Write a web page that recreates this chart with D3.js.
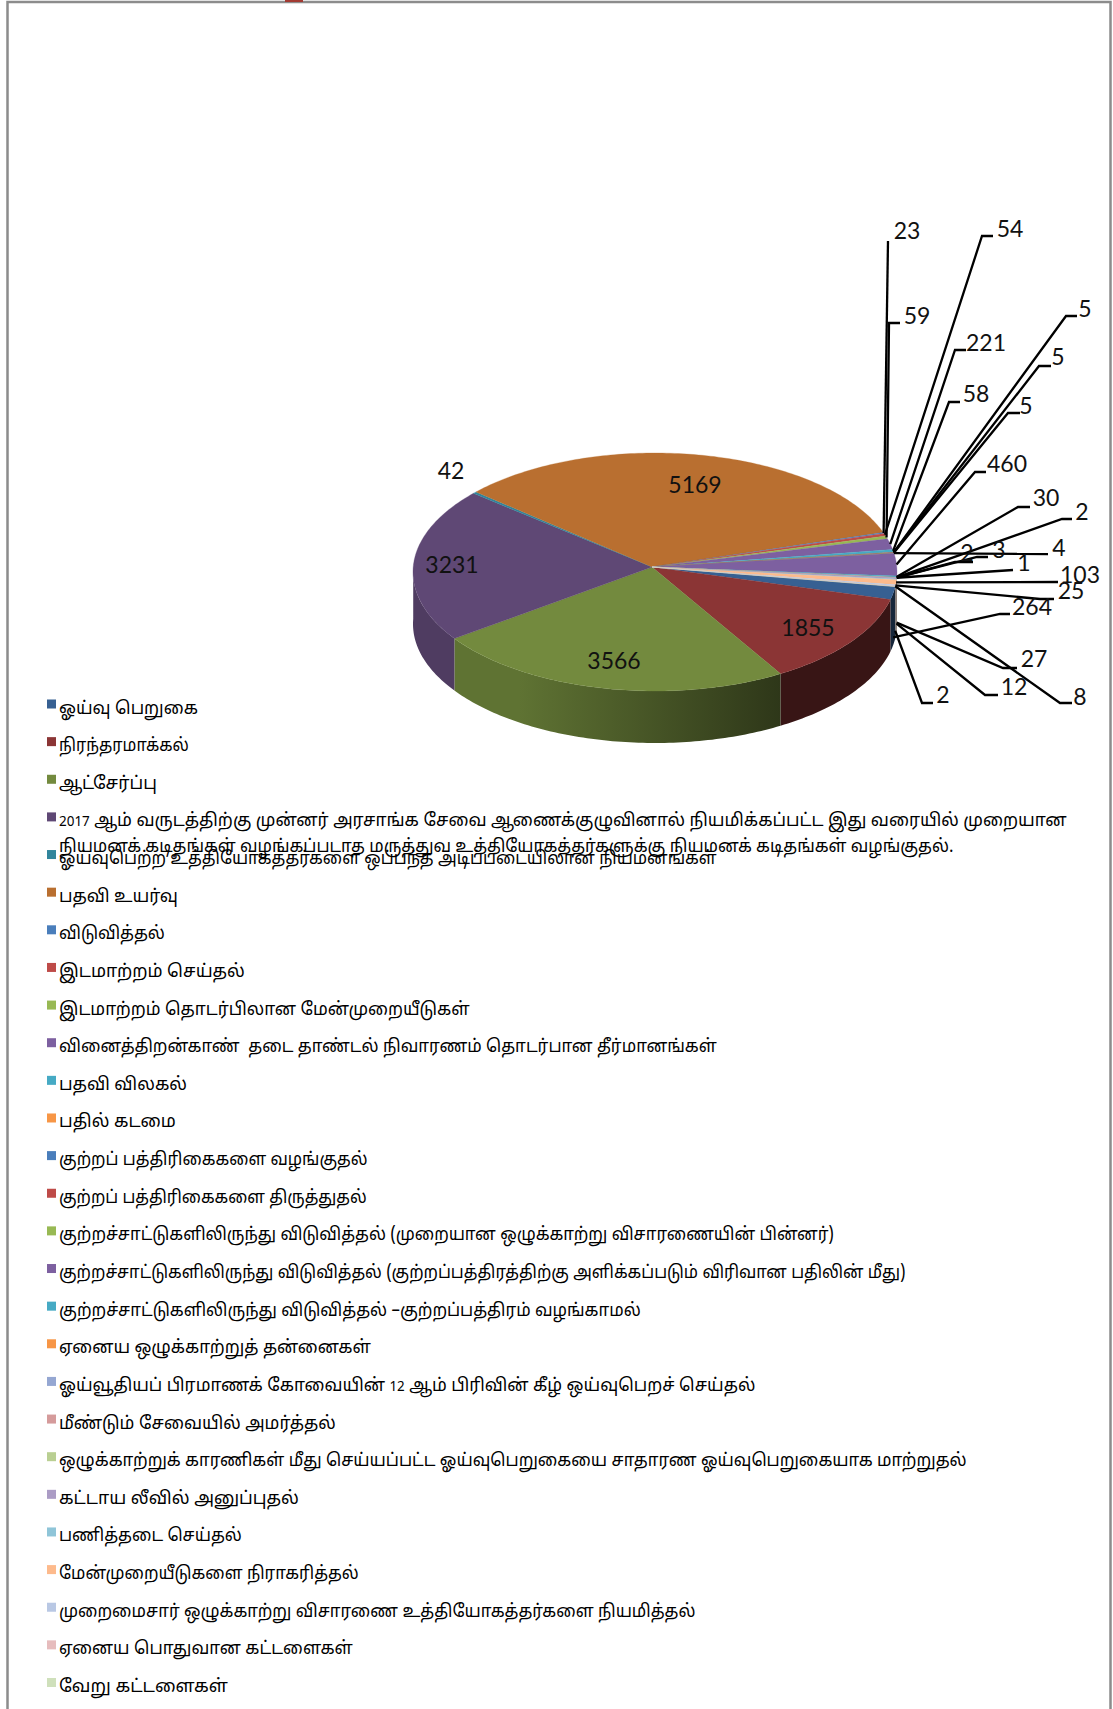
<!DOCTYPE html>
<html>
<head>
<meta charset="utf-8">
<script src="https://cdn.jsdelivr.net/npm/d3@7"></script>
<style>
  html, body { margin: 0; padding: 0; background: #fff; }
  svg { display: block; }
  .legend text { font-family: "Noto Sans Tamil", "Latha", "Noto Sans", sans-serif; font-size: 18px; fill: #000; white-space: pre; }
  .legend .num { font-size: 14px; }
  .value { font-family: Lato, sans-serif; font-size: 23px; fill: #111; }
</style>
</head>
<body>
<svg id="chart" width="1113" height="1709"></svg>
<script>
const categories = [
  "ஓய்வு பெறுகை",
  "நிரந்தரமாக்கல்",
  "ஆட்சேர்ப்பு",
  "2017 ஆம் வருடத்திற்கு முன்னர் அரசாங்க சேவை ஆணைக்குழுவினால் நியமிக்கப்பட்ட இது வரையில் முறையான|நியமனக் கடிதங்கள் வழங்கப்படாத மருத்துவ உத்தியோகத்தர்களுக்கு நியமனக் கடிதங்கள் வழங்குதல்.",
  "ஓய்வுபெற்ற உத்தியோகத்தர்களை ஒப்பந்த அடிப்படையிலான நியமனங்கள்",
  "பதவி உயர்வு",
  "விடுவித்தல்",
  "இடமாற்றம் செய்தல்",
  "இடமாற்றம் தொடர்பிலான மேன்முறையீடுகள்",
  "வினைத்திறன்காண்  தடை தாண்டல் நிவாரணம் தொடர்பான தீர்மானங்கள்",
  "பதவி விலகல்",
  "பதில் கடமை",
  "குற்றப் பத்திரிகைகளை வழங்குதல்",
  "குற்றப் பத்திரிகைகளை திருத்துதல்",
  "குற்றச்சாட்டுகளிலிருந்து விடுவித்தல் (முறையான ஒழுக்காற்று விசாரணையின் பின்னர்)",
  "குற்றச்சாட்டுகளிலிருந்து விடுவித்தல் (குற்றப்பத்திரத்திற்கு அளிக்கப்படும் விரிவான பதிலின் மீது)",
  "குற்றச்சாட்டுகளிலிருந்து விடுவித்தல் –குற்றப்பத்திரம் வழங்காமல்",
  "ஏனைய ஒழுக்காற்றுத் தன்னைகள்",
  "ஓய்வூதியப் பிரமாணக் கோவையின் 12 ஆம் பிரிவின் கீழ் ஒய்வுபெறச் செய்தல்",
  "மீண்டும் சேவையில் அமர்த்தல்",
  "ஒழுக்காற்றுக் காரணிகள் மீது செய்யப்பட்ட ஓய்வுபெறுகையை சாதாரண ஓய்வுபெறுகையாக மாற்றுதல்",
  "கட்டாய லீவில் அனுப்புதல்",
  "பணித்தடை செய்தல்",
  "மேன்முறையீடுகளை நிராகரித்தல்",
  "முறைமைசார் ஒழுக்காற்று விசாரணை உத்தியோகத்தர்களை நியமித்தல்",
  "ஏனைய பொதுவான கட்டளைகள்",
  "வேறு கட்டளைகள்"
];
const values = [264, 1855, 3566, 3231, 42, 5169, 23, 54, 59, 221, 58, 5, 5, 5, 4, 460, 30, 2, 3, 2, 1, 27, 12, 103, 25, 8, 2];
const colors = [
  "#376092", "#8b3535", "#738a3e", "#5f4875", "#31859c", "#b96f30",
  "#4a7ebb", "#be4b48", "#98b954", "#7d60a0", "#46aac4", "#f79646",
  "#4a7ebb", "#be4b48", "#98b954", "#7d60a0", "#46aac4", "#f79646",
  "#95a7d2", "#d59b9b", "#b9cf92", "#ab9cc5", "#8fc5d8", "#fdba8c",
  "#b9c8e4", "#e6bcbd", "#cfe0bb"
];

// pie geometry
const cx = 655, cy = 572, rx = 242, ry = 119, depth = 52;
const apex = [652, 567];
const startDeg = 99.3;

const rad = d => d * Math.PI / 180;

// the apex sits a little above the ellipse centre, so angles run from the apex
function rim(a) {
  const p = (apex[0] - cx) / rx, q = (apex[1] - cy) / ry;
  const u = Math.sin(a), v = -Math.cos(a);
  const b = p * u + q * v;
  const t = -b + Math.sqrt(b * b - (p * p + q * q - 1));
  return [cx + rx * (p + t * u), cy + ry * (q + t * v)];
}

const svg = d3.select("#chart");
const defs = svg.append("defs");

// page frame
svg.append("path").attr("d", "M7.5,1709 V2 H1110.5 V1709")
  .attr("fill", "none").attr("stroke", "#8c8c8c").attr("stroke-width", 2.5);
svg.append("rect").attr("x", 285).attr("y", 0).attr("width", 18).attr("height", 2).attr("fill", "#a33a32");

const pie = d3.pie().sort(null).value(d => d)
  .startAngle(rad(startDeg)).endAngle(rad(startDeg + 360));
const slices = pie(values);
const line = d3.line();

function arcPoints(a0, a1) {
  const n = Math.max(2, Math.ceil((a1 - a0) / rad(1)));
  return d3.range(n + 1).map(i => rim(a0 + (a1 - a0) * i / n));
}

// side shading goes dark towards the right
const shade = d3.scaleLinear().domain([0, 0.22, 0.76, 1]).range([0.83, 0.83, 0.4, 0.4]);
colors.forEach((c, i) => {
  const g = defs.append("linearGradient").attr("id", "side" + i)
    .attr("gradientUnits", "userSpaceOnUse")
    .attr("x1", cx - rx).attr("x2", cx + rx).attr("y1", 0).attr("y2", 0);
  [0, 0.22, 0.76, 1].forEach(t => {
    const k = shade(t), col = d3.rgb(c);
    g.append("stop").attr("offset", t)
      .attr("stop-color", d3.rgb(col.r * k, col.g * k, col.b * k).formatHex());
  });
});

const sides = svg.append("g");
slices.forEach((s, i) => {
  // only the front half of the rim shows, that is clock angles 90..270
  [[rad(90), rad(270)], [rad(450), rad(630)]].forEach(([lo, hi]) => {
    const a0 = Math.max(s.startAngle, lo), a1 = Math.min(s.endAngle, hi);
    if (a1 <= a0) return;
    const top = arcPoints(a0, a1);
    const bottom = top.map(p => [p[0], p[1] + depth]).reverse();
    sides.append("path")
      .attr("d", line(top.concat(bottom)) + "Z")
      .attr("fill", `url(#side${i})`);
  });
});

svg.append("g").selectAll("path").data(slices).join("path")
  .attr("d", s => line([apex].concat(arcPoints(s.startAngle, s.endAngle))) + "Z")
  .attr("fill", (s, i) => colors[i])
  .attr("stroke", (s, i) => colors[i]).attr("stroke-width", 0.3);

// where each value label sits: [stub start x, stub end x, stub y, text x, text y, from bottom of the side]
const labelSpots = [
  [1000, 1010, 614, 1032, 606, 1],
  [0, 0, 0, 808, 627, 0],
  [0, 0, 0, 614, 660, 0],
  [0, 0, 0, 452, 564, 0],
  [0, 0, 0, 451, 470, 0],
  [0, 0, 0, 695, 484, 0],
  [888, 888, 241, 907, 230, 0],
  [982, 993, 236, 1010, 228, 0],
  [889, 900, 323, 917, 315, 0],
  [955, 966, 350, 986, 342, 0],
  [949, 960, 402, 976, 393, 0],
  [1066, 1077, 316, 1085, 308, 0],
  [1039, 1051, 366, 1058, 356, 0],
  [1008, 1020, 413, 1026, 405, 0],
  [1048, 1048, 554, 1059, 547, 0],
  [975, 986, 472, 1007, 463, 0],
  [1018, 1030, 507, 1046, 497, 0],
  [1062, 1072, 519, 1082, 511, 0],
  [977, 988, 557, 999, 549, 0],
  [955, 973, 562, 967, 552, 0],
  [1013, 1013, 570, 1024, 562, 0],
  [1003, 1017, 668, 1034, 658, 1],
  [985, 998, 695, 1014, 686, 1],
  [1058, 1058, 582, 1080, 574, 0],
  [1040, 1054, 599, 1071, 590, 0],
  [1060, 1072, 703, 1080, 696, 0],
  [922, 933, 703, 943, 694, 1]
];

const leaders = svg.append("g").attr("fill", "none").attr("stroke", "#000").attr("stroke-width", 2.3);
slices.forEach((s, i) => {
  const [x0, x1, y, , , low] = labelSpots[i];
  if (!x0) return;
  const p = rim((s.startAngle + s.endAngle) / 2);
  leaders.append("path").attr("d", line([[p[0], p[1] + (low ? depth * 0.85 : 0)], [x0, y], [x1, y]]));
});

svg.append("g").selectAll("text").data(values).join("text")
  .attr("class", "value")
  .attr("x", (d, i) => labelSpots[i][3])
  .attr("y", (d, i) => labelSpots[i][4])
  .attr("text-anchor", "middle")
  .attr("dominant-baseline", "central")
  .text(d => d);

// right end of every legend line in the original, the font there has other widths
const lineEnds = [
  198, 189, 157, 1068, 954, 717, 178, 165, 245, 470, 717, 187, 176, 368, 367,
  835, 906, 641, 371, 756, 336, 967, 299, 242, 359, 696, 353, 228
];
const textX = 59;

// legend, one row per category
const rowY = d3.scalePoint().domain(d3.range(categories.length)).range([705.5, 1684]);
const legend = svg.append("g").attr("class", "legend");
let lineNo = 0;
categories.forEach((name, i) => {
  const y = rowY(i);
  legend.append("rect").attr("x", 47).attr("y", y - 6).attr("width", 9).attr("height", 9).attr("fill", colors[i]);
  name.split("|").forEach((part, k) => {
    const t = legend.append("text");
    // digits come out smaller in the original
    part.split(/(\d+)/).filter(d => d).forEach(bit => {
      t.append("tspan").attr("class", /^\d/.test(bit) ? "num" : null).text(bit);
    });
    const sx = (lineEnds[lineNo++] - textX) / t.node().getComputedTextLength();
    t.attr("transform", `translate(${textX},${y + 8 + k * 26}) scale(${sx.toFixed(3)},1)`);
  });
});
</script>
</body>
</html>
